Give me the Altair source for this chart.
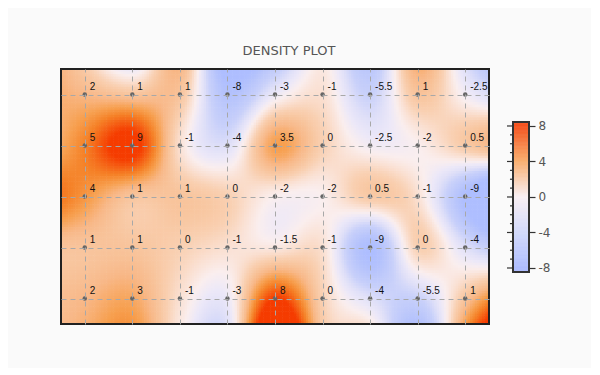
import altair as alt
import numpy as np
import pandas as pd

# ---- data ----
columns = [0, 1, 2, 3, 4, 5, 6, 7, 8]
rows = [0, 1, 2, 3, 4]
row0 = [2, 1, 1, -8, -3, -1, -5.5, 1, -2.5]
row1 = [5, 9, -1, -4, 3.5, 0, -2.5, -2, 0.5]
row2 = [4, 1, 1, 0, -2, -2, 0.5, -1, -9]
row3 = [1, 1, 0, -1, -1.5, -1, -9, 0, -4]
row4 = [2, 3, -1, -3, 8, 0, -4, -5.5, 1]
grid_values = [row0, row1, row2, row3, row4]

# colour bar scale
bar_stops = [-8, -4, 0, 4, 8]
bar_colors = ["#a3b4ff", "#cdd5fb", "#f9eef3", "#f8a45c", "#f53c00"]
# colours as they appear in the plotted surface
heat_stops = [-9, -8, -5.5, -4, -3, -2, -1, 0, 1, 2, 3.5, 5, 8]
heat_colors = ["#aebeff", "#b4c2fc", "#c8d0fa", "#e0e0f8", "#ece8f8", "#faeeee",
               "#fae0d2", "#f9d0b2", "#f8c49c", "#f8b888", "#f7a050", "#f58228", "#f53c00"]
legend_ticks = list(range(-8, 9))

# ---- point table ----
pts = []
for r, vals in zip(rows, grid_values):
    for c, v in zip(columns, vals):
        pts.append({"x": c, "y": r, "v": v, "label": f"{v:g}"})
pts_df = pd.DataFrame(pts)

# ---- smooth surface: bicubic (Catmull-Rom) through the grid, linear beyond edges ----
G = np.array(grid_values, float)


def extend(M, axis):
    M = np.moveaxis(M, axis, 0)
    g1 = 2 * M[0] - M[1]
    g2 = 2 * g1 - M[0]
    h1 = 2 * M[-1] - M[-2]
    h2 = 2 * h1 - M[-1]
    out = np.concatenate([g2[None], g1[None], M, h1[None], h2[None]], axis=0)
    return np.moveaxis(out, 0, axis)


E = extend(extend(G, 1), 0)  # shape (5+4, 9+4)


def cr_weights(t):
    return np.stack([
        0.5 * (-t + 2 * t ** 2 - t ** 3),
        0.5 * (2 - 5 * t ** 2 + 3 * t ** 3),
        0.5 * (t + 4 * t ** 2 - 3 * t ** 3),
        0.5 * (-t ** 2 + t ** 3),
    ], axis=-1)


step = 1 / 20
gx = np.arange(-0.5, 8.5 - 1e-9, step) + step / 2
gy = np.arange(-0.5, 4.5 - 1e-9, step) + step / 2
ix = np.floor(gx).astype(int)
tx = gx - ix
iy = np.floor(gy).astype(int)
ty = gy - iy
wx = cr_weights(tx)
wy = cr_weights(ty)
colidx = (ix[:, None] + np.arange(-1, 3)[None, :]) + 2
Rx = np.einsum("rnk,nk->rn", E[:, colidx], wx)
rowidx = (iy[:, None] + np.arange(-1, 3)[None, :]) + 2
Z = np.einsum("mkn,mk->mn", Rx[rowidx], wy)

GX, GY = np.meshgrid(gx, gy)
heat_df = pd.DataFrame({
    "x": np.round(GX.ravel() - step / 2, 3),
    "x2": np.round(GX.ravel() + step / 2 + 0.012, 3),
    "y": np.round(GY.ravel() - step / 2, 3),
    "y2": np.round(GY.ravel() + step / 2 + 0.012, 3),
    "v": np.round(Z.ravel(), 2),
})

# colorbar strip
cb_vals = np.round(np.arange(-8.45, 8.45, 0.05), 3)
cb_df = pd.DataFrame({"c": cb_vals, "c2": cb_vals + 0.07})
tick_df = pd.DataFrame({"t": legend_ticks,
                        "len": [-0.375 if t % 4 == 0 else -0.19 for t in legend_ticks]})

heat_scale = alt.Scale(domain=heat_stops, range=heat_colors, clamp=True, interpolate="rgb")
bar_scale = alt.Scale(domain=bar_stops, range=bar_colors, clamp=True, interpolate="rgb")

xs = alt.Scale(domain=[-0.5, 8.5], nice=False, zero=False)
ys = alt.Scale(domain=[-0.5, 4.5], nice=False, zero=False, reverse=True)
grid_axis_x = alt.Axis(values=columns, labels=False, ticks=False, domain=False, grid=True,
                       gridDash=[5, 4], gridColor="#a8a8a8", gridWidth=1, zindex=1, title=None)
grid_axis_y = alt.Axis(values=rows, labels=False, ticks=False, domain=False, grid=True,
                       gridDash=[5, 4], gridColor="#a8a8a8", gridWidth=1, zindex=1, title=None)

heat = alt.Chart(heat_df).mark_rect(strokeWidth=0).encode(
    x=alt.X("x:Q", scale=xs, axis=grid_axis_x),
    x2="x2:Q",
    y=alt.Y("y:Q", scale=ys, axis=grid_axis_y),
    y2="y2:Q",
    color=alt.Color("v:Q", scale=heat_scale, legend=None),
)

points = alt.Chart(pts_df).mark_circle(size=20, color="#666666", opacity=1).encode(
    x=alt.X("x:Q", scale=xs), y=alt.Y("y:Q", scale=ys)
)
labels = alt.Chart(pts_df).mark_text(
    align="left", baseline="middle", dx=5, dy=-8, fontSize=10,
    font="Liberation Sans", color="#111111"
).encode(x=alt.X("x:Q", scale=xs), y=alt.Y("y:Q", scale=ys), text="label:N")

border = alt.Chart(pts_df).mark_rect(fill=None, stroke="#222222", strokeWidth=1.5).encode(
    x=alt.X(datum=-0.5, type="quantitative", scale=xs), x2=alt.X2(datum=8.5),
    y=alt.Y(datum=-0.5, type="quantitative", scale=ys), y2=alt.Y2(datum=4.5),
)

main = alt.layer(heat, points, labels, border).properties(
    width=428, height=255,
    title=alt.TitleParams("DENSITY PLOT", fontSize=13, font="DejaVu Sans", color="#555555",
                          fontWeight="normal", dx=14, offset=10),
)

cbs = alt.Scale(domain=[-14.31, 14.42], nice=False, zero=False)
cbx = alt.Scale(domain=[0, 1], nice=False, zero=False)
right_axis = alt.Axis(
    orient="right", values=legend_ticks, domain=False, grid=False, title=None,
    labelExpr="datum.value % 4 == 0 ? '' + datum.value : ''",
    tickSize={"condition": {"test": "datum.value % 4 == 0", "value": 6}, "value": 3},
    tickColor="#333333", tickWidth=1.2, labelFontSize=12, labelColor="#555555",
    labelFont="DejaVu Sans", labelPadding=3,
)
grad = alt.Chart(cb_df).mark_rect(strokeWidth=0).encode(
    x=alt.X(datum=0, type="quantitative", scale=cbx, axis=None), x2=alt.X2(datum=1),
    y=alt.Y("c:Q", scale=cbs, axis=right_axis), y2="c2:Q",
    color=alt.Color("c:Q", scale=bar_scale, legend=None),
)
frame = alt.Chart(tick_df).mark_rect(fill=None, stroke="#333333", strokeWidth=1.5).encode(
    x=alt.X(datum=0, type="quantitative", scale=cbx), x2=alt.X2(datum=1),
    y=alt.Y(datum=-8.45, type="quantitative", scale=cbs), y2=alt.Y2(datum=8.45),
)
left_ticks = alt.Chart(tick_df).mark_rule(color="#333333", strokeWidth=1.2).encode(
    x=alt.X("len:Q", scale=cbx), x2=alt.X2(datum=0),
    y=alt.Y("t:Q", scale=cbs),
)
colorbar = alt.layer(grad, frame, left_ticks).properties(width=16, height=255)

chart = alt.hconcat(main, colorbar, spacing=14).resolve_scale(color="independent").properties(
    padding={"left": 51, "top": 36, "right": 40, "bottom": 42},
    background="#fafafa",
).configure_view(stroke="transparent")

chart.save("out.html", embed_options={"renderer": "svg", "actions": False})
